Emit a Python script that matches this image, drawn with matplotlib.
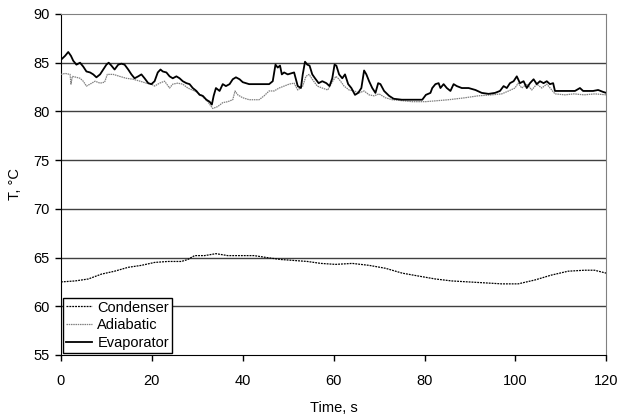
import matplotlib
matplotlib.use("Agg")
import matplotlib.pyplot as plt

plt.rcParams['font.family'] = ['Liberation Sans', 'DejaVu Sans']

# Evaporator (solid black)
evap_t = [0, 0.9, 1.6, 2.2, 2.7, 3.4, 4.2, 4.9, 5.6, 6.4, 7.1, 7.8, 8.6, 9.3, 10.0, 10.5, 11.1, 11.8,
          12.6, 13.3, 14.0, 14.8, 15.5, 16.2, 17.0, 17.7, 18.4, 19.2, 19.9, 20.6, 21.3, 21.9, 22.4,
          23.2, 23.9, 24.6, 25.4, 26.1, 26.8, 27.6, 28.3, 29.0, 29.8, 30.5, 31.2, 32.0, 32.7, 33.2,
          33.6, 34.1, 34.9, 35.6, 36.3, 37.1, 37.8, 38.5, 39.3, 40.0, 41.4, 43.6, 45.8, 46.6, 47.2,
          47.7, 48.2, 48.6, 49.1, 49.9, 50.6, 51.3, 52.1, 52.8, 53.2, 53.7, 54.2, 54.7, 55.3, 55.9,
          56.7, 57.5, 58.4, 59.1, 59.7, 60.2, 60.6, 61.2, 61.9, 62.5, 63.2, 63.9, 64.7, 65.4, 66.1,
          66.7, 67.2, 67.8, 68.5, 69.2, 69.8, 70.3, 71.1, 72.2, 73.2, 75.0, 77.3, 79.5, 80.3, 81.3,
          81.7, 82.4, 83.1, 83.5, 84.2, 84.9, 85.7, 86.4, 87.1, 88.2, 89.7, 91.2, 92.6, 94.1, 95.5,
          96.6, 97.4, 98.1, 98.8, 99.6, 100.3, 101.0, 101.8, 102.5, 103.2, 104.0, 104.7, 105.4,
          106.2, 106.9, 107.6, 108.3, 108.7, 110.2, 111.6, 113.1, 114.2, 114.9, 116.0, 117.1,
          118.2, 119.3, 120.0]
evap_T = [85.3, 85.7, 86.1, 85.7, 85.2, 84.8, 85.0, 84.6, 84.1, 84.0, 83.8, 83.5, 83.8, 84.3, 84.8,
          85.0, 84.7, 84.3, 84.8, 84.9, 84.8, 84.3, 83.8, 83.4, 83.6, 83.8, 83.4, 82.9, 82.8, 83.1,
          84.0, 84.3, 84.1, 84.0, 83.6, 83.4, 83.6, 83.4, 83.1, 82.9, 82.8, 82.4, 82.1, 81.7, 81.6,
          81.2, 81.0, 80.7, 81.6, 82.4, 82.1, 82.8, 82.6, 82.8, 83.3, 83.5, 83.3, 83.0, 82.8, 82.8,
          82.8, 83.1, 84.8, 84.5, 84.7, 83.8, 84.0, 83.8, 83.9, 84.0, 82.6, 82.4, 83.8, 85.1, 84.8,
          84.7, 83.8, 83.4, 82.9, 83.1, 82.9, 82.6, 83.4, 84.8, 84.7, 83.8, 83.4, 83.8, 82.8, 82.4,
          81.7, 81.9, 82.4, 84.2, 83.8, 83.1, 82.4, 81.9, 82.9, 82.8, 82.1, 81.6, 81.3, 81.2, 81.2,
          81.2, 81.7, 81.9, 82.4, 82.8, 82.9, 82.4, 82.8, 82.4, 82.1, 82.8, 82.6, 82.4, 82.4,
          82.2, 81.9, 81.8, 81.9, 82.1, 82.6, 82.4, 82.9, 83.1, 83.6, 82.9, 83.1, 82.4, 82.9, 83.3,
          82.8, 83.1, 82.9, 83.1, 82.8, 82.9, 82.1, 82.1, 82.1, 82.1, 82.4, 82.1, 82.1, 82.1, 82.2,
          82.0, 81.9]

# Adiabatic (grey dotted)
adia_t = [0, 0.9, 2.0, 2.2, 2.5, 3.4, 4.2, 4.9, 5.6, 6.4, 7.5, 8.6, 9.6, 10.2, 11.5, 12.9, 14.4,
          15.9, 17.4, 18.8, 19.9, 20.6, 21.7, 22.8, 23.9, 24.6, 25.7, 26.8, 27.9, 29.4, 30.8, 32.3,
          33.4, 34.5, 35.6, 36.7, 37.8, 38.3, 38.9, 40.0, 41.4, 42.5, 43.6, 44.7, 45.8, 46.9, 48.0,
          49.1, 50.2, 51.3, 52.1, 53.2, 53.9, 54.6, 55.3, 56.4, 57.5, 58.7, 59.8, 60.5, 61.2, 62.3,
          63.4, 64.5, 65.6, 66.7, 67.8, 68.9, 70.0, 71.4, 72.9, 75.1, 77.3, 80.2, 82.8, 85.3, 88.9,
          91.8, 94.8, 97.0, 98.5, 99.9, 100.6, 101.4, 102.5, 103.6, 104.7, 105.8, 106.9, 108.0,
          108.7, 110.9, 112.9, 115.1, 117.5, 120.0]
adia_T = [83.8, 83.9, 83.8, 82.8, 83.6, 83.5, 83.4, 83.1, 82.6, 82.8, 83.1, 82.9, 83.0, 83.8, 83.8,
          83.6, 83.4, 83.3, 83.1, 82.9, 82.8, 82.6, 82.9, 83.1, 82.4, 82.8, 82.9, 82.8, 82.4, 82.1,
          81.7, 81.0, 80.3, 80.5, 80.9, 81.0, 81.2, 82.1, 81.7, 81.4, 81.2, 81.2, 81.2, 81.6, 82.1,
          82.1, 82.4, 82.6, 82.8, 82.9, 82.2, 82.6, 83.6, 83.8, 83.3, 82.6, 82.4, 82.2, 83.1, 83.6,
          83.3, 82.6, 82.2, 82.1, 81.9, 82.1, 81.7, 81.6, 81.8, 81.4, 81.2, 81.1, 81.0, 81.0, 81.1,
          81.2, 81.4, 81.6, 81.7, 81.8, 82.1, 82.4, 82.9, 82.4, 82.8, 82.2, 82.8, 82.4, 82.8, 82.2,
          81.8, 81.7, 81.8, 81.7, 81.8, 81.7]

# Condenser (black fine dashed)
cond_t = [0, 3.1, 6.0, 8.9, 11.8, 14.8, 17.7, 20.6, 23.5, 26.5, 27.9, 29.4, 31.6, 34.1, 36.7, 39.6,
          42.5, 45.3, 48.4, 51.3, 54.2, 57.2, 60.4, 64.1, 67.8, 71.4, 75.1, 78.7, 82.4, 86.0, 89.7,
          93.4, 97.0, 100.6, 104.3, 107.9, 111.6, 115.2, 117.4, 120.0]
cond_T = [62.5, 62.6, 62.8, 63.3, 63.6, 64.0, 64.2, 64.5, 64.6, 64.6, 64.8, 65.2, 65.2, 65.4, 65.2,
          65.2, 65.2, 65.0, 64.8, 64.7, 64.6, 64.4, 64.3, 64.4, 64.2, 63.9, 63.4, 63.1, 62.8, 62.6,
          62.5, 62.4, 62.3, 62.3, 62.7, 63.2, 63.6, 63.7, 63.7, 63.4]

x_ticks = [0, 20, 40, 60, 80, 100, 120]
y_ticks = [55, 60, 65, 70, 75, 80, 85, 90]

fig = plt.figure(figsize=(6.19, 4.15), dpi=100)
ax = fig.add_axes([0.0985, 0.1446, 0.8810, 0.8217])

for yv in y_ticks[1:-1]:
    ax.axhline(yv, color='#404040', lw=1.0, zorder=1)

ax.plot(cond_t, cond_T, color='black', lw=0.9, ls=(0, (1.5, 0.8)), label='Condenser', zorder=3)
ax.plot(adia_t, adia_T, color='#808080', lw=0.9, ls=(0, (1.2, 0.6)), label='Adiabatic', zorder=3)
ax.plot(evap_t, evap_T, color='black', lw=1.3, label='Evaporator', zorder=4)

ax.set_xlim(0, 120)
ax.set_ylim(55, 90)
ax.set_xticks(x_ticks)
ax.set_yticks(y_ticks)
ax.tick_params(direction='out', length=4, labelsize=10.5, width=1)
ax.tick_params(axis='x', pad=10)
ax.tick_params(axis='y', pad=4)
for s in ['top', 'right']:
    ax.spines[s].set_color('#808080')
ax.spines['left'].set_color('black')
ax.spines['bottom'].set_color('black')

ax.set_xlabel('Time, s', fontsize=10.5, labelpad=9)
ax.set_ylabel('T, °C', fontsize=10.5, labelpad=8)

leg = ax.legend(loc='lower left', fontsize=10.5, frameon=True, fancybox=False,
                edgecolor='black', framealpha=1, borderaxespad=0.15, handlelength=1.8,
                handletextpad=0.35, labelspacing=0.25, borderpad=0.2)
leg.get_frame().set_linewidth(1.0)

fig.savefig('out.png', dpi=100)
